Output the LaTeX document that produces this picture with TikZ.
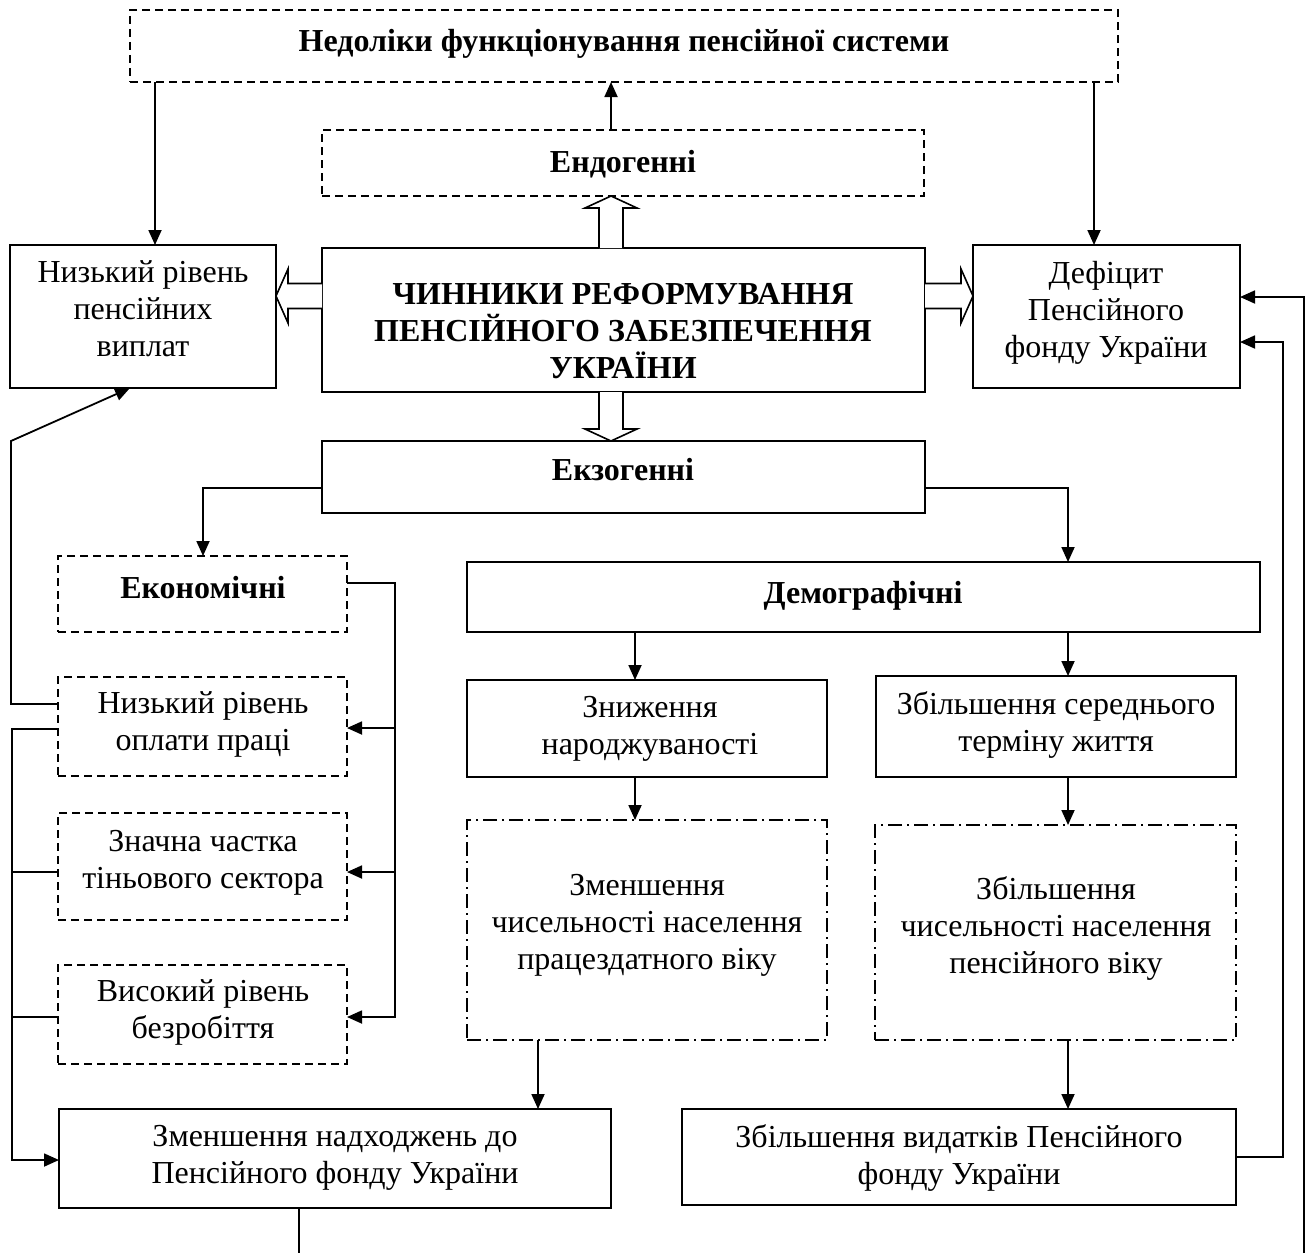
\documentclass[tikz,border=0pt]{standalone}
\usepackage{fontspec}
\setmainfont{Liberation Serif}
\usetikzlibrary{arrows.meta,calc,fit}
\tikzset{
 solidbox/.style={draw, line width=0.9pt, inner sep=0pt, outer sep=0pt},
 dashbox/.style={solidbox, dash pattern=on 4pt off 2.5pt},
 dotbox/.style={solidbox, dash pattern=on 7pt off 2.5pt on 1pt off 2.5pt},
 txt/.style={align=center, inner sep=0pt, outer sep=0pt, font=\fontsize{16pt}{18.5pt}\selectfont, execute at begin node=\strut, execute at end node=\strut},
 btxt/.style={txt, font=\fontsize{16pt}{18.5pt}\selectfont\bfseries},
 arr/.style={line width=0.9pt, -{Triangle[length=7.5pt,width=6.5pt]}},
 plain/.style={line width=0.9pt},
 hollow/.style={line width=0.8pt, fill=white, line join=miter},
}
\begin{document}
\begin{tikzpicture}[x=0.5pt,y=-0.5pt]
\useasboundingbox (0,0) rectangle (1315,1253);
% boxes
\node[dashbox, fit={(130,10) (1118,82)}] (top) {};
\node[dashbox, fit={(322,130) (924,196)}] (endo) {};
\node[solidbox, fit={(322,248) (925,392)}] (center) {};
\node[solidbox, fit={(10,245) (276,388)}] (lowpens) {};
\node[solidbox, fit={(973,245) (1240,388)}] (deficit) {};
\node[solidbox, fit={(322,441) (925,513)}] (exo) {};
\node[dashbox, fit={(58,556) (347,632)}] (econ) {};
\node[dashbox, fit={(58,677) (347,776)}] (lowwage) {};
\node[dashbox, fit={(58,813) (347,920)}] (shadow) {};
\node[dashbox, fit={(58,965) (347,1064)}] (unemploy) {};
\node[solidbox, fit={(467,562) (1260,632)}] (demo) {};
\node[solidbox, fit={(467,680) (827,777)}] (births) {};
\node[solidbox, fit={(876,676) (1236,777)}] (life) {};
\node[dotbox, fit={(467,820) (827,1040)}] (zmch) {};
\node[dotbox, fit={(875,825) (1236,1040)}] (zbch) {};
\node[solidbox, fit={(59,1109) (611,1208)}] (nadkh) {};
\node[solidbox, fit={(682,1109) (1236,1205)}] (vydatky) {};
% texts
\node[btxt] (topT) at (624,44.5) {Недоліки функціонування пенсійної системи};
\node[btxt] (endoT) at (623,165.5) {Ендогенні};
\node[btxt] (centerT) at (623,336) {ЧИННИКИ РЕФОРМУВАННЯ\\ПЕНСІЙНОГО ЗАБЕЗПЕЧЕННЯ\\УКРАЇНИ};
\node[txt] (lowpensT) at (143,314.5) {Низький рівень\\пенсійних\\виплат};
\node[txt] (deficitT) at (1106,314.5) {Дефіцит\\Пенсійного\\фонду України};
\node[btxt] (exoT) at (623,473.5) {Екзогенні};
\node[btxt] (econT) at (203,591.5) {Економічні};
\node[txt] (lowwageT) at (203,727) {Низький рівень\\оплати праці};
\node[txt] (shadowT) at (203,865) {Значна частка\\тіньового сектора};
\node[txt] (unemployT) at (203,1015) {Високий рівень\\безробіття};
\node[btxt] (demoT) at (863,596) {Демографічні};
\node[txt] (birthsT) at (650,731) {Зниження\\народжуваності};
\node[txt] (lifeT) at (1056,727) {Збільшення середнього\\терміну життя};
\node[txt] (zmchT) at (647,927.5) {Зменшення\\чисельності населення\\працездатного віку};
\node[txt] (zbchT) at (1056,930.5) {Збільшення\\чисельності населення\\пенсійного віку};
\node[txt] (nadkhT) at (335,1160) {Зменшення надходжень до\\Пенсійного фонду України};
\node[txt] (vydatkyT) at (959,1160) {Збільшення видатків Пенсійного\\фонду України};
% helper coordinates
\coordinate (v155) at (155,0);
\coordinate (v1094) at (1094,0);
\coordinate (v611) at (611,0);
\coordinate (v203) at (203,0);
\coordinate (v1068) at (1068,0);
\coordinate (v395) at (395,0);
\coordinate (v11) at (11,0);
\coordinate (v12) at (12,0);
\coordinate (v130) at (130,0);
\coordinate (v635) at (635,0);
\coordinate (v538) at (538,0);
\coordinate (v1283) at (1283,0);
\coordinate (h488) at (0,488);
\coordinate (h583) at (0,583);
\coordinate (h728) at (0,728);
\coordinate (h872) at (0,872);
\coordinate (h1017) at (0,1017);
\coordinate (h704) at (0,704);
\coordinate (h729) at (0,729);
\coordinate (h441) at (0,441);
\coordinate (h1160) at (0,1160);
\coordinate (h1157) at (0,1157);
\coordinate (h342) at (0,342);
\coordinate (h297) at (0,297);
\coordinate (h296) at (0,296);
\coordinate (endR) at (1304,1253);
\coordinate (endL) at (299,1253);
% simple arrows
\draw[arr] (top.south -| v155) -- (lowpens.north -| v155);
\draw[arr] (top.south -| v1094) -- (deficit.north -| v1094);
\draw[arr] (endo.north -| v611) -- (top.south -| v611);
\draw[arr] (exo.west |- h488) -| (econ.north -| v203);
\draw[arr] (exo.east |- h488) -| (demo.north -| v1068);
\draw[arr] (econ.east |- h583) -| (v395 |- h1017) -- (unemploy.east |- h1017);
\draw[arr] (v395 |- h728) -- (lowwage.east |- h728);
\draw[arr] (v395 |- h872) -- (shadow.east |- h872);
\draw[arr] (lowwage.west |- h704) -- (v11 |- h704) -- (v11 |- h441) -- (lowpens.south -| v130);
\draw[arr] (lowwage.west |- h729) -- (v12 |- h729) -- (v12 |- h1160) -- (nadkh.west |- h1160);
\draw[plain] (shadow.west |- h872) -- (v12 |- h872);
\draw[plain] (unemploy.west |- h1017) -- (v12 |- h1017);
\draw[arr] (demo.south -| v635) -- (births.north -| v635);
\draw[arr] (demo.south -| v1068) -- (life.north -| v1068);
\draw[arr] (births.south -| v635) -- (zmch.north -| v635);
\draw[arr] (life.south -| v1068) -- (zbch.north -| v1068);
\draw[arr] (zmch.south -| v538) -- (nadkh.north -| v538);
\draw[arr] (zbch.south -| v1068) -- (vydatky.north -| v1068);
\draw[arr] (vydatky.east |- h1157) -- (v1283 |- h1157) -- (v1283 |- h342) -- (deficit.east |- h342);
\draw[arr] (endR) -- (endR |- h297) -- (deficit.east |- h297);
\draw[plain] (nadkh.south -| endL) -- (endL);
% hollow arrows
\coordinate (uB) at (center.north -| v611);
\coordinate (uT) at (endo.south -| v611);
\draw[hollow] ($(uB)+(-12,0)$) -- ($(uT)+(-12,12)$) -- ($(uT)+(-26,12)$) -- (uT) -- ($(uT)+(26,12)$) -- ($(uT)+(12,12)$) -- ($(uB)+(12,0)$);
\coordinate (dB) at (center.south -| v611);
\coordinate (dT) at (exo.north -| v611);
\draw[hollow] ($(dB)+(-12,0)$) -- ($(dT)+(-12,-12)$) -- ($(dT)+(-26,-12)$) -- (dT) -- ($(dT)+(26,-12)$) -- ($(dT)+(12,-12)$) -- ($(dB)+(12,0)$);
\coordinate (lB) at (center.west |- h296);
\coordinate (lT) at (lowpens.east |- h296);
\draw[hollow] ($(lB)+(0,-12.5)$) -- ($(lT)+(12,-12.5)$) -- ($(lT)+(12,-27)$) -- (lT) -- ($(lT)+(12,27)$) -- ($(lT)+(12,12.5)$) -- ($(lB)+(0,12.5)$);
\coordinate (rB) at (center.east |- h296);
\coordinate (rT) at (deficit.west |- h296);
\draw[hollow] ($(rB)+(0,-12.5)$) -- ($(rT)+(-12,-12.5)$) -- ($(rT)+(-12,-27)$) -- (rT) -- ($(rT)+(-12,27)$) -- ($(rT)+(-12,12.5)$) -- ($(rB)+(0,12.5)$);
\end{tikzpicture}
\end{document}
